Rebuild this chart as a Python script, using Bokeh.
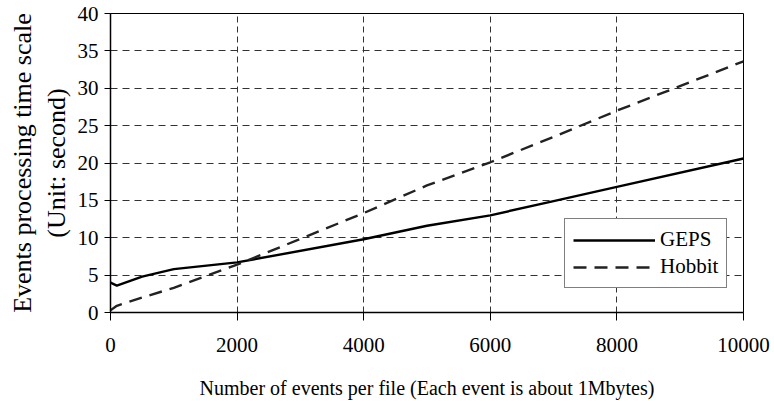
from bokeh.plotting import figure
from bokeh.models import Range1d, Legend, LegendItem, SingleIntervalTicker
from bokeh.embed import file_html
from bokeh.resources import INLINE

x_events = [0, 100, 500, 1000, 2000, 4000, 5000, 6000, 7000, 8000, 10000]
geps = [4.0, 3.6, 4.8, 5.8, 6.7, 9.8, 11.6, 13.0, 14.9, 16.8, 20.6]
hobbit = [0.3, 0.9, 2.0, 3.3, 6.4, 13.3, 17.0, 20.1, 23.5, 27.0, 33.6]

FONT = "'Liberation Serif', 'Times New Roman', serif"

p = figure(width=774, height=401, output_backend="svg", toolbar_location=None,
           x_range=Range1d(0, 10000), y_range=Range1d(0, 40),
           min_border_left=110, min_border_right=31, min_border_top=13, min_border_bottom=88)

p.outline_line_color = "black"
p.outline_line_width = 1
p.background_fill_color = "white"
p.border_fill_color = "white"

r1 = p.line(x_events, geps, line_color="black", line_width=2.4)
r2 = p.line(x_events, hobbit, line_color="#222222", line_width=2.4, line_dash="13 8")

p.xaxis.ticker = SingleIntervalTicker(interval=2000, num_minor_ticks=0)
p.yaxis.ticker = SingleIntervalTicker(interval=5, num_minor_ticks=0)

for ax in (p.xaxis[0], p.yaxis[0]):
    ax.axis_line_color = "black"
    ax.axis_line_width = 1.5
    ax.major_tick_line_color = "black"
    ax.minor_tick_line_color = None
    ax.major_tick_in = 0
    ax.major_label_text_font = FONT
    ax.major_label_text_font_size = "21px"
    ax.major_label_text_color = "black"
    ax.axis_label_text_font = FONT
    ax.axis_label_text_font_style = "normal"
    ax.axis_label_text_color = "black"

p.xaxis.major_tick_out = 8
p.xaxis.major_label_standoff = 17
p.xaxis.axis_label = "Number of events per file (Each event is about 1Mbytes)"
p.xaxis.axis_label_text_font_size = "20px"
p.xaxis.axis_label_standoff = 22

p.yaxis.major_tick_out = 6
p.yaxis.major_label_standoff = 6
p.yaxis.axis_label = "Events processing time scale\n(Unit: second)"
p.yaxis.axis_label_text_font_size = "26px"
p.yaxis.axis_label_text_line_height = 1.15
p.yaxis.axis_label_standoff = 4

p.xgrid.grid_line_color = "#333333"
p.xgrid.grid_line_dash = "6 4"
p.xgrid.grid_line_width = 1
p.ygrid.grid_line_color = "#333333"
p.ygrid.grid_line_dash = "7 5"
p.ygrid.grid_line_width = 1

legend = Legend(items=[LegendItem(label="GEPS", renderers=[r1]),
                       LegendItem(label="Hobbit", renderers=[r2])],
                location=(454, 24))
legend.border_line_color = "black"
legend.border_line_width = 1
legend.background_fill_color = "white"
legend.background_fill_alpha = 1
legend.label_text_font = FONT
legend.label_text_font_size = "21px"
legend.label_text_color = "black"
legend.glyph_width = 82
legend.glyph_height = 20
legend.label_height = 20
legend.label_standoff = 5
legend.spacing = 2
legend.padding = 8
legend.margin = 0
p.add_layout(legend, "center")

open("out.html", "w").write(file_html(p, INLINE))
